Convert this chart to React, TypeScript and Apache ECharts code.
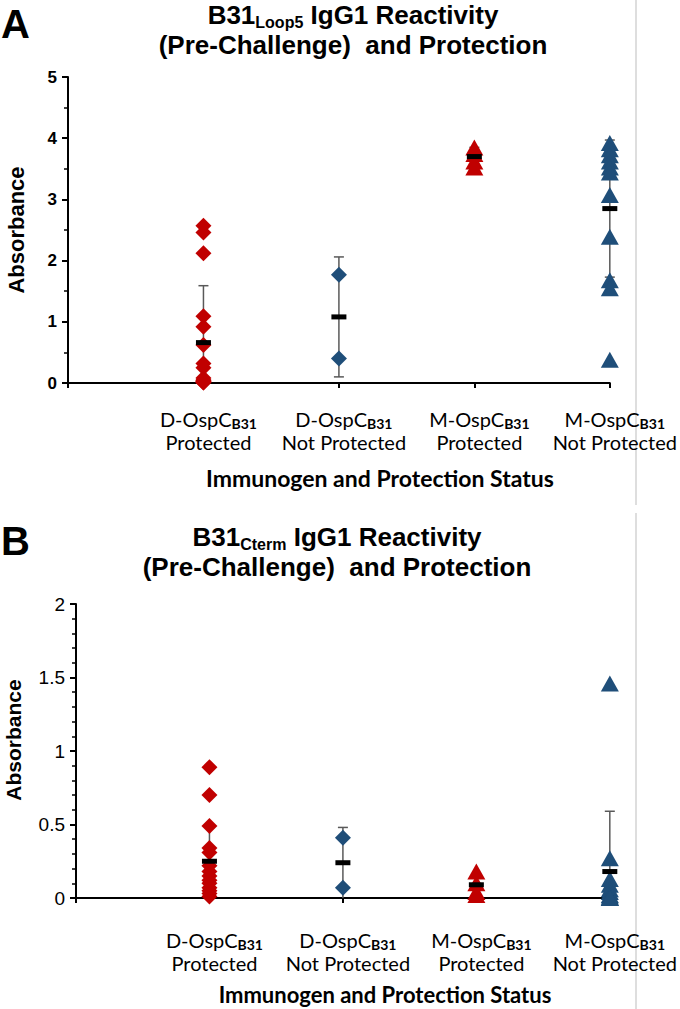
import React, { useEffect, useRef } from 'react';
import * as echarts from 'echarts';

// ---------- data ----------
const groupNames = ['D-OspC', 'D-OspC', 'M-OspC', 'M-OspC'];
const statusNames = ['Protected', 'Not Protected', 'Protected', 'Not Protected'];
const groupSub = 'B31';
const xTickValues = [1, 2, 3, 4];

// Panel A: B31 Loop5 IgG1
const aDProtected = [2.57, 2.46, 2.12, 1.09, 0.92, 0.62, 0.32, 0.25, 0.08, 0.05, 0.04, 0.03, 0.02, 0.02, 0.01, 0.01];
const aDNotProtected = [1.77, 0.4];
const aMProtected = [3.85, 3.74, 3.62, 3.52];
const aMNotProtected = [3.92, 3.82, 3.72, 3.62, 3.52, 3.44, 3.07, 2.39, 1.68, 1.55, 0.38];
const aMeans = [0.66, 1.08, 3.7, 2.85];
const aSD = [0.93, 0.98, 0.15, 1.12];

// Panel B: B31 Cterm IgG1
const bDProtected = [0.89, 0.7, 0.49, 0.34, 0.31, 0.22, 0.18, 0.15, 0.12, 0.1, 0.07, 0.05, 0.03, 0.01];
const bDNotProtected = [0.41, 0.07];
const bMProtected = [0.18, 0.1, 0.04, 0.02];
const bMNotProtected = [1.46, 0.27, 0.13, 0.09, 0.06, 0.04, 0.02, 0.01, 0.0, 0.0, 0.0];
const bMeans = [0.25, 0.24, 0.09, 0.18];
const bSD = [0.23, 0.24, 0.07, 0.41];

const aYAxis = { min: 0, max: 5, interval: 1 };
const bYAxis = { min: 0, max: 2, interval: 0.5 };

// ---------- style ----------
const RED = '#C00000';
const BLUE = '#1F4E79';
const ARIAL = '"Liberation Sans", Arial, sans-serif';
const LATO = 'Lato, "Open Sans", sans-serif';

const pts = (x: number, arr: number[]) => arr.map((v) => [x, v]);

function xAxisFor(gridIndex: number, margin: number) {
  return {
    type: 'value',
    gridIndex,
    min: 0,
    max: 4,
    interval: 1,
    splitLine: { show: false },
    axisLine: { show: true, onZero: false, lineStyle: { color: '#000', width: 2 } },
    axisTick: { show: true, inside: false, length: 5, lineStyle: { color: '#000', width: 2 } },
    axisLabel: {
      show: true,
      margin,
      padding: [0, 0, 0, 10],
      formatter: (v: number) => {
        const i = xTickValues.indexOf(Math.round(v));
        if (i < 0) return '';
        return `{g|${groupNames[i]}}{s|${groupSub}}\n{g|${statusNames[i]}}`;
      },
      rich: {
        g: { fontFamily: LATO, fontSize: 20, color: '#000', lineHeight: 23 },
        s: { fontFamily: LATO, fontSize: 14, fontWeight: 'bold', color: '#000', lineHeight: 14, verticalAlign: 'bottom' },
      },
    },
  };
}

function yAxisFor(gridIndex: number, cfg: { min: number; max: number; interval: number }, minorSplit: number, fontSize: number, weight: string) {
  return {
    type: 'value',
    gridIndex,
    min: cfg.min,
    max: cfg.max,
    interval: cfg.interval,
    splitLine: { show: false },
    axisLine: { show: true, lineStyle: { color: '#000', width: 2 } },
    axisTick: { show: true, inside: false, length: 6, lineStyle: { color: '#000', width: 2 } },
    minorTick: { show: true, splitNumber: minorSplit, length: 4, lineStyle: { color: '#000', width: 1.5 } },
    axisLabel: { margin: 11, fontFamily: ARIAL, fontSize, fontWeight: weight, color: '#000' },
  };
}

function scatter(idx: number, x: number, arr: number[], symbol: string, color: string, size: number[]) {
  return {
    type: 'scatter',
    xAxisIndex: idx,
    yAxisIndex: idx,
    symbol,
    symbolSize: size,
    itemStyle: { color, opacity: 1 },
    data: pts(x, arr),
    z: 3,
  };
}

function errorBars(idx: number, means: number[], sds: number[]) {
  return {
    type: 'custom',
    xAxisIndex: idx,
    yAxisIndex: idx,
    z: 2,
    encode: { x: 0, y: 1 },
    data: means.map((m, i) => [xTickValues[i], m, sds[i]]),
    renderItem: (params: any, api: any) => {
      const x = api.value(0);
      const m = api.value(1);
      const sd = api.value(2);
      const lo = Math.max(0, m - sd);
      const hi = m + sd;
      const pHi = api.coord([x, hi]);
      const pLo = api.coord([x, lo]);
      const cap = 5;
      const st = { stroke: '#595959', lineWidth: 1.5 };
      const children: any[] = [
        { type: 'line', shape: { x1: pHi[0], y1: pHi[1], x2: pLo[0], y2: pLo[1] }, style: st },
        { type: 'line', shape: { x1: pHi[0] - cap, y1: pHi[1], x2: pHi[0] + cap, y2: pHi[1] }, style: st },
      ];
      if (m - sd > 0) {
        children.push({ type: 'line', shape: { x1: pLo[0] - cap, y1: pLo[1], x2: pLo[0] + cap, y2: pLo[1] }, style: st });
      }
      return { type: 'group', children };
    },
  };
}

function meanBars(idx: number, means: number[]) {
  return {
    type: 'scatter',
    xAxisIndex: idx,
    yAxisIndex: idx,
    symbol: 'rect',
    symbolSize: [15, 5],
    itemStyle: { color: '#000', opacity: 1 },
    data: means.map((m, i) => [xTickValues[i], m]),
    z: 5,
  };
}

const titleRich = {
  b: { fontFamily: ARIAL, fontWeight: 'bold', fontSize: 26, lineHeight: 30, color: '#000' },
  s: { fontFamily: ARIAL, fontWeight: 'bold', fontSize: 16, lineHeight: 12, color: '#000', verticalAlign: 'bottom' },
};

export default function App() {
  const ref = useRef<HTMLDivElement>(null);
  useEffect(() => {
    document.body.style.margin = '0';
    if (!ref.current) return;
    const chart = echarts.init(ref.current, null, { renderer: 'svg' });
    const diamond = [16, 16];
    const tri = [18, 16];
    chart.setOption({
      animation: false,
      backgroundColor: '#fff',
      title: [
        {
          text: '{b|B31}{s|Loop5}{b| IgG1 Reactivity}\n{b|(Pre-Challenge)  and Protection}',
          left: 353,
          top: 0,
          padding: 0,
          textAlign: 'center',
          textStyle: { rich: titleRich },
        },
        {
          text: '{b|B31}{s|Cterm}{b| IgG1 Reactivity}\n{b|(Pre-Challenge)  and Protection}',
          left: 337,
          top: 522,
          padding: 0,
          textAlign: 'center',
          textStyle: { rich: titleRich },
        },
      ],
      grid: [
        { left: 68, top: 77, width: 543, height: 306, containLabel: false },
        { left: 76, top: 604, width: 534, height: 294, containLabel: false },
      ],
      xAxis: [xAxisFor(0, 24), xAxisFor(1, 30)],
      yAxis: [yAxisFor(0, aYAxis, 2, 17, 'bold'), yAxisFor(1, bYAxis, 5, 19, 'normal')],
      graphic: [
        { type: 'line', shape: { x1: 636, y1: 0, x2: 636, y2: 505 }, style: { stroke: '#dedede', lineWidth: 2 } },
        { type: 'line', shape: { x1: 636, y1: 513, x2: 636, y2: 1009 }, style: { stroke: '#dedede', lineWidth: 2 } },
        { type: 'text', x: 1, y: 24, style: { text: 'A', font: `bold 40px ${ARIAL}`, fill: '#000', textAlign: 'left', textVerticalAlign: 'middle' } },
        { type: 'text', x: 1, y: 541, style: { text: 'B', font: `bold 40px ${ARIAL}`, fill: '#000', textAlign: 'left', textVerticalAlign: 'middle' } },
        { type: 'text', x: 16, y: 230, rotation: Math.PI / 2, style: { text: 'Absorbance', font: `bold 22px ${ARIAL}`, fill: '#000', textAlign: 'center', textVerticalAlign: 'middle' } },
        { type: 'text', x: 13, y: 740, rotation: Math.PI / 2, style: { text: 'Absorbance', font: `bold 21px ${ARIAL}`, fill: '#000', textAlign: 'center', textVerticalAlign: 'middle' } },
        { type: 'text', x: 380, y: 478, style: { text: 'Immunogen and Protection Status', font: `bold 23px ${LATO}`, fill: '#000', textAlign: 'center', textVerticalAlign: 'middle' } },
        { type: 'text', x: 385, y: 994, style: { text: 'Immunogen and Protection Status', font: `bold 22px ${LATO}`, fill: '#000', textAlign: 'center', textVerticalAlign: 'middle' } },
      ],
      series: [
        errorBars(0, aMeans, aSD),
        scatter(0, 1, aDProtected, 'diamond', RED, diamond),
        scatter(0, 2, aDNotProtected, 'diamond', BLUE, diamond),
        scatter(0, 3, aMProtected, 'triangle', RED, tri),
        scatter(0, 4, aMNotProtected, 'triangle', BLUE, tri),
        meanBars(0, aMeans),
        errorBars(1, bMeans, bSD),
        scatter(1, 1, bDProtected, 'diamond', RED, diamond),
        scatter(1, 2, bDNotProtected, 'diamond', BLUE, diamond),
        scatter(1, 3, bMProtected, 'triangle', RED, tri),
        scatter(1, 4, bMNotProtected, 'triangle', BLUE, tri),
        meanBars(1, bMeans),
      ],
    });
    return () => chart.dispose();
  }, []);
  return <div ref={ref} style={{ width: 680, height: 1009 }} />;
}
